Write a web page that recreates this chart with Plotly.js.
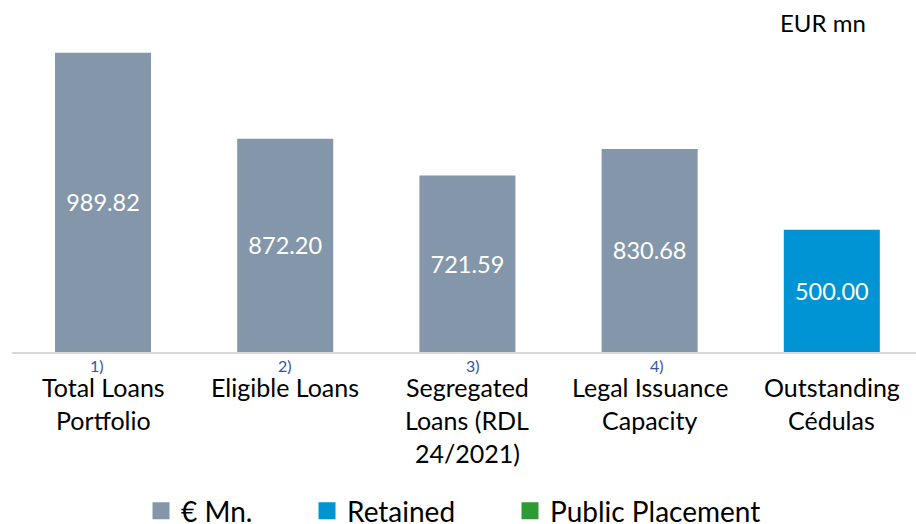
<!DOCTYPE html>
<html>
<head>
<meta charset="utf-8">
<script src="https://cdn.plot.ly/plotly-3.0.1.min.js"></script>
<style>html,body{margin:0;padding:0;background:#fff;}#chart{width:916px;height:524px;}</style>
</head>
<body>
<div id="chart"></div>
<script>
// Categories (lines of each axis label)
const categories = ["Total Loans<br>Portfolio", "Eligible Loans", "Segregated<br>Loans (RDL<br>24/2021)", "Legal Issuance<br>Capacity", "Outstanding<br>Cédulas"];
const footnotes = ["1)", "2)", "3)", "4)", ""];
// Bar heights as drawn in the picture (first bar is drawn taller than its label)
const mnHeights = [1224, 872.20, 721.59, 830.68, null];
const mnLabels = ["989.82", "872.20", "721.59", "830.68", ""];
const retainedHeights = [null, null, null, null, 500.00];
const retainedLabels = ["", "", "", "", "500.00"];
const publicHeights = [null, null, null, null, null];
const seriesNames = ["€ Mn.", "Retained", "Public Placement"];
const seriesColors = ["#8497AA", "#0094D4", "#2E9A33"];

const FONT = "Lato, 'Open Sans', sans-serif";
const xIdx = categories.map((_, i) => i);

const common = {type: 'bar', x: xIdx, width: 0.527, textposition: 'inside', insidetextanchor: 'middle',
  textfont: {color: '#ffffff', size: 23.5, family: FONT}, hoverinfo: 'skip', showlegend: false};

const traces = [
  Object.assign({}, common, {name: seriesNames[0], y: mnHeights, text: mnLabels, marker: {color: seriesColors[0]}}),
  Object.assign({}, common, {name: seriesNames[1], y: retainedHeights, text: retainedLabels, marker: {color: seriesColors[1]}}),
  Object.assign({}, common, {name: seriesNames[2], y: publicHeights, marker: {color: seriesColors[2]}})
];
// legend entries (no data of their own)
const legendIds = ['legend', 'legend2', 'legend3'];
seriesNames.forEach((n, i) => {
  traces.push({type: 'bar', x: xIdx, y: [null, null, null, null, null], name: n, legend: legendIds[i],
    showlegend: true, hoverinfo: 'skip',
    marker: {color: seriesColors[i], line: {color: seriesColors[i], width: 5}}});
});

const annotations = [];
const lineGap = 33;
categories.forEach((c, i) => {
  c.split('<br>').forEach((line, k) => {
    annotations.push({x: i, y: 0, xref: 'x', yref: 'paper', text: line, showarrow: false,
      xanchor: 'center', yanchor: 'middle', yshift: -(35 + k * lineGap),
      font: {family: FONT, size: 25, color: '#000000'}});
  });
});
const fnShift = [-6, 0, 6, 7, 0];
footnotes.forEach((f, i) => {
  if (!f) return;
  annotations.push({x: i, y: 0, xref: 'x', yref: 'paper', text: f, showarrow: false,
    xanchor: 'center', yanchor: 'middle', yshift: -13.5, xshift: fnShift[i],
    font: {family: FONT, size: 16, color: '#2F55A4'}});
});
annotations.push({x: (823 - 12) / 904, y: (352 - 22) / 352, xref: 'paper', yref: 'paper', text: 'EUR mn',
  showarrow: false, xanchor: 'center', yanchor: 'middle',
  font: {family: FONT, size: 24, color: '#000000'}});

const legendLeft = [141, 307, 510];
const legendBase = {orientation: 'h', xanchor: 'left', y: -(511 - 352) / 352, yanchor: 'middle',
  font: {family: FONT, size: 28, color: '#000000'}, bgcolor: 'rgba(0,0,0,0)'};

const layout = {
  width: 916, height: 524,
  margin: {l: 12, r: 0, t: 0, b: 172, autoexpand: false},
  paper_bgcolor: '#ffffff', plot_bgcolor: '#ffffff',
  barmode: 'overlay',
  font: {family: FONT, color: '#000000'},
  xaxis: {range: [-0.4995, 4.462], showticklabels: false, ticks: '', showgrid: false, zeroline: false,
    showline: true, linecolor: '#D9D9D9', linewidth: 2, fixedrange: true},
  yaxis: {range: [0, 1440], visible: false, fixedrange: true},
  showlegend: true,
  legend: Object.assign({}, legendBase, {x: (legendLeft[0] - 12) / 904}),
  legend2: Object.assign({}, legendBase, {x: (legendLeft[1] - 12) / 904}),
  legend3: Object.assign({}, legendBase, {x: (legendLeft[2] - 12) / 904}),
  annotations: annotations
};

Plotly.newPlot('chart', traces, layout, {displayModeBar: false, staticPlot: true});
</script>
</body>
</html>
